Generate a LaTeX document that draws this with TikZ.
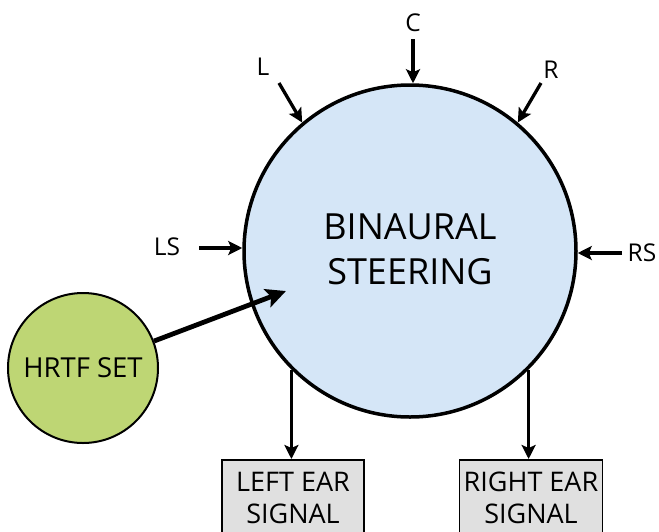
\documentclass[tikz,border=0pt]{standalone}
\usepackage{fontspec}
\setmainfont{Open Sans}
\usetikzlibrary{arrows.meta}

\definecolor{steerblue}{RGB}{213,230,247}
\definecolor{hrtfgreen}{RGB}{190,214,116}
\definecolor{outgray}{RGB}{224,224,224}

\tikzset{
  inarrow/.style={line width=3.3pt, -{Stealth[length=14pt,width=14pt,inset=3pt]}},
  bigarrow/.style={line width=4.8pt, -{Stealth[length=20pt,width=19pt,inset=4pt]}},
  chanlabel/.style={font=\fontsize{24.5}{28}\selectfont, inner sep=0pt},
  outbox/.style={draw, fill=outgray, line width=1.5pt, anchor=north,
    minimum width=142pt, inner xsep=4pt, inner ysep=12pt, align=center,
    font=\fontsize{27}{32}\selectfont},
}

\begin{document}
\begin{tikzpicture}[x=1pt,y=-1pt]
  \useasboundingbox (0,0) rectangle (659,531);
  \clip (0,0) rectangle (659,531);

  % main steering block
  \node[circle, draw, line width=3.5pt, fill=steerblue, minimum size=332pt,
        inner sep=0pt] (bs) at (410,251) {};
  \node[align=center, inner sep=0pt, font=\fontsize{36}{45}\selectfont]
        (bstext) at (410,249) {BINAURAL\\STEERING};

  % HRTF set
  \node[circle, draw, line width=2pt, fill=hrtfgreen, minimum size=150pt,
        inner sep=0pt, font=\fontsize{27.5}{32}\selectfont] (hrtf) at (83,368) {HRTF SET};

  % output signals
  \node[outbox] (lbox) at (293,459) {LEFT EAR\\SIGNAL};
  \node[outbox] (rbox) at (531,459) {RIGHT EAR\\SIGNAL};

  % channel labels
  \node[chanlabel] (lc)  at (413,23)  {C};
  \node[chanlabel] (ll)  at (263,67)  {L};
  \node[chanlabel] (lr)  at (551,70)  {R};
  \node[chanlabel] (lls) at (167,247) {LS};
  \node[chanlabel] (lrs) at (642,253) {RS};

  % arrow tails
  \coordinate (cC)  at (413,39);
  \coordinate (cL)  at (279,83);
  \coordinate (cR)  at (541,83);
  \coordinate (cLS) at (199,248);
  \coordinate (cRS) at (622,253);
  \coordinate (hin) at (286,291);

  % input channels
  \draw[inarrow] (cC)  -- (cC |- bs.north);
  \draw[inarrow] (cL)  -- (bs.130);
  \draw[inarrow] (cR)  -- (bs.50);
  \draw[inarrow] (cLS) -- (cLS -| bs.west);
  \draw[inarrow] (cRS) -- (cRS -| bs.east);

  % HRTF into steering
  \draw[bigarrow] (hrtf) -- (hin);

  % outputs
  \draw[inarrow] (bs.-135) -- (bs.-135 |- lbox.north);
  \draw[inarrow] (bs.-45)  -- (bs.-45 |- rbox.north);
\end{tikzpicture}
\end{document}
